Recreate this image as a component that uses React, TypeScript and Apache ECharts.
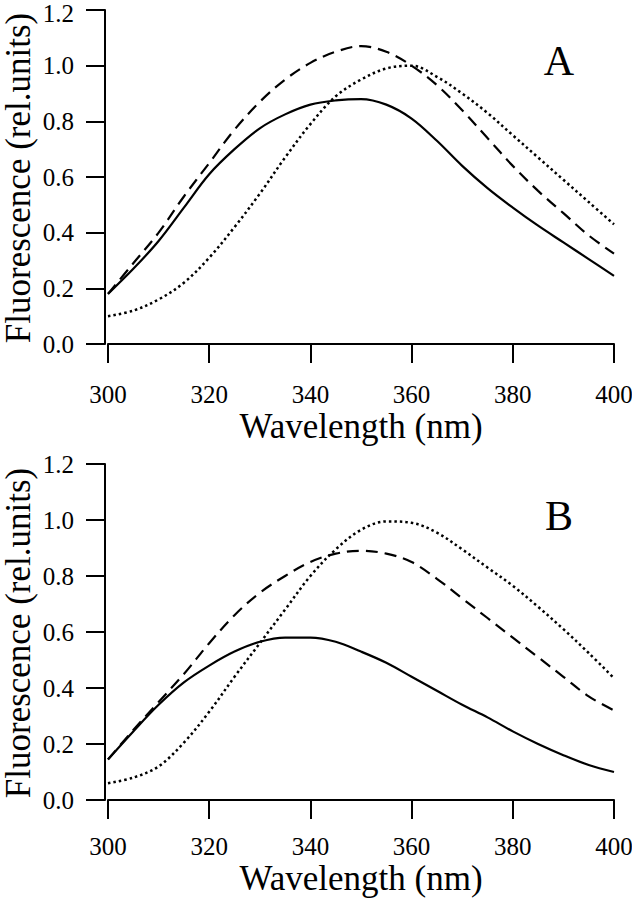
import React, { useEffect, useRef } from "react";
import * as echarts from "echarts";

const wavelengths = [300, 305, 310, 315, 320, 325, 330, 335, 340, 345, 350, 355, 360, 365, 370, 375, 380, 385, 390, 395, 400];

const solidA = [0.18, 0.27, 0.37, 0.49, 0.61, 0.7, 0.775, 0.825, 0.86, 0.875, 0.88, 0.86, 0.81, 0.73, 0.64, 0.56, 0.49, 0.425, 0.365, 0.305, 0.245];
const dashedA = [0.18, 0.29, 0.4, 0.53, 0.65, 0.77, 0.87, 0.95, 1.01, 1.05, 1.07, 1.05, 1.0, 0.93, 0.84, 0.74, 0.64, 0.55, 0.47, 0.39, 0.325];
const dottedA = [0.1, 0.12, 0.16, 0.22, 0.31, 0.42, 0.54, 0.67, 0.79, 0.89, 0.95, 0.99, 1.0, 0.96, 0.9, 0.83, 0.75, 0.67, 0.59, 0.51, 0.43];

const solidB = [0.145, 0.245, 0.34, 0.42, 0.48, 0.53, 0.565, 0.58, 0.58, 0.565, 0.53, 0.49, 0.44, 0.39, 0.34, 0.295, 0.245, 0.2, 0.16, 0.125, 0.1];
const dashedB = [0.145, 0.25, 0.35, 0.45, 0.56, 0.66, 0.74, 0.8, 0.85, 0.88, 0.89, 0.88, 0.85, 0.79, 0.72, 0.65, 0.58, 0.51, 0.44, 0.37, 0.32];
const dottedB = [0.06, 0.08, 0.12, 0.205, 0.315, 0.44, 0.56, 0.68, 0.8, 0.895, 0.965, 0.995, 0.99, 0.955, 0.895, 0.83, 0.765, 0.69, 0.61, 0.525, 0.435];

const xTicks = [300, 320, 340, 360, 380, 400];
const yTicks = [0, 0.2, 0.4, 0.6, 0.8, 1.0, 1.2];
const panelLabels = ["A", "B"];
const xTitle = "Wavelength (nm)";
const yTitle = "Fluorescence (rel.units)";

const FONT = "Liberation Serif";

function pairs(vals: number[]) {
  return wavelengths.map((w, i) => [w, vals[i]]);
}

export default function App() {
  const ref = useRef<HTMLDivElement>(null);
  useEffect(() => {
    if (!ref.current) return;
    const chart = echarts.init(ref.current, null, { renderer: "svg" });
    const axisCommon = {
      axisLine: { show: true, lineStyle: { color: "#000", width: 2 } },
      axisTick: { show: true, inside: false, length: 19, lineStyle: { color: "#000", width: 2 } },
      axisLabel: { show: false },
      splitLine: { show: false },
    };
    const xAxis = [0, 1].map((g) => ({
      type: "value",
      gridIndex: g,
      min: 300,
      max: 400,
      interval: 20,
      offset: 5,
      ...axisCommon,
    }));
    const yAxis = [0, 1].map((g) => ({
      type: "value",
      gridIndex: g,
      min: 0,
      max: 1.2,
      interval: 0.2,
      offset: 3,
      ...axisCommon,
    }));
    const mk = (vals: number[], g: number, type: any, width: number) => ({
      type: "line",
      xAxisIndex: g,
      yAxisIndex: g,
      data: pairs(vals),
      smooth: 0.35,
      showSymbol: false,
      lineStyle: { color: "#000", width, type },
    });
    chart.setOption({
      animation: false,
      backgroundColor: "#fff",
      grid: [
        { left: 108, right: 18, top: 10, height: 334, outerBoundsMode: "none", containLabel: false },
        { left: 108, right: 18, top: 464, height: 336, outerBoundsMode: "none", containLabel: false },
      ],
      xAxis,
      yAxis,
      series: [
        mk(solidA, 0, "solid", 2.2),
        mk(dashedA, 0, [12, 7], 2.2),
        mk(dottedA, 0, [2.5, 3], 2.5),
        mk(solidB, 1, "solid", 2.2),
        mk(dashedB, 1, [12, 7], 2.2),
        mk(dottedB, 1, [2.5, 3], 2.5),
      ],
    });

    // Texts drawn as graphic elements, placed from the axes' own scales
    const graphics: any[] = [];
    const xLabelDy = [45, 41];
    const xTitleDy = [77, 73];
    [0, 1].forEach((g) => {
      const px = (x: number, y: number) => chart.convertToPixel({ gridIndex: g }, [x, y]) as number[];
      const origin = px(300, 0);
      const top = px(300, 1.2);
      const right = px(400, 0);
      const axisY = origin[1] + 5;
      const axisX = origin[0] - 3;
      yTicks.forEach((v) => {
        const p = px(300, v);
        graphics.push({
          type: "text",
          x: axisX - 31,
          y: Math.max(p[1], 13),
          style: {
            text: v.toFixed(1),
            font: `25px ${FONT}`,
            fill: "#000",
            textAlign: "right",
            textVerticalAlign: "middle",
          },
        });
      });
      xTicks.forEach((w) => {
        const p = px(w, 0);
        graphics.push({
          type: "text",
          x: p[0],
          y: axisY + xLabelDy[g],
          style: {
            text: String(w),
            font: `25px ${FONT}`,
            fill: "#000",
            textAlign: "center",
            textVerticalAlign: "middle",
          },
        });
      });
      graphics.push({
        type: "text",
        x: (origin[0] + right[0]) / 2,
        y: axisY + xTitleDy[g],
        style: {
          text: xTitle,
          font: `35px ${FONT}`,
          fill: "#000",
          textAlign: "center",
          textVerticalAlign: "middle",
        },
      });
      graphics.push({
        type: "text",
        x: 18.5,
        y: (origin[1] + top[1]) / 2 + 1,
        rotation: Math.PI / 2,
        style: {
          text: yTitle,
          font: `35px ${FONT}`,
          fill: "#000",
          textAlign: "center",
          textVerticalAlign: "middle",
        },
      });
      graphics.push({
        type: "text",
        x: right[0] - 55,
        y: top[1] + (g === 0 ? 51 : 52),
        style: {
          text: panelLabels[g],
          font: `42px ${FONT}`,
          fill: "#000",
          textAlign: "center",
          textVerticalAlign: "middle",
        },
      });
    });
    chart.setOption({ graphic: graphics });
    return () => chart.dispose();
  }, []);
  return (
    <div
      ref={ref}
      style={{ position: "absolute", left: 0, top: 0, width: 632, height: 900, background: "#fff" }}
    />
  );
}
